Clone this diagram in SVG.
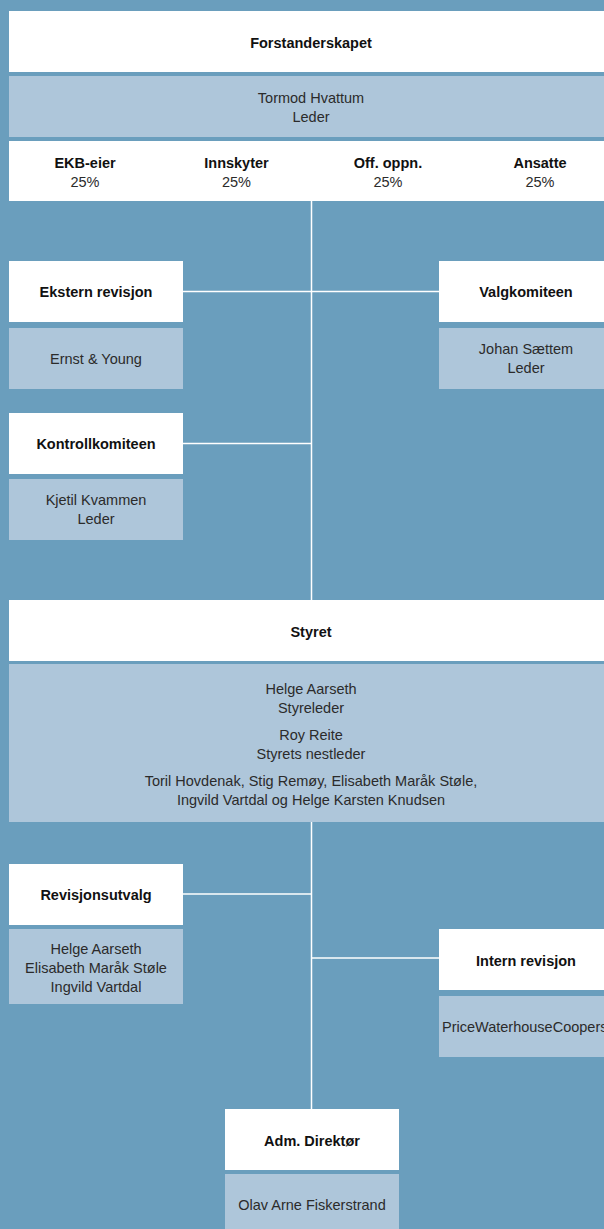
<svg xmlns="http://www.w3.org/2000/svg" width="604" height="1229" viewBox="0 0 604 1229">
<style>
.bg{fill:#6a9ebd}
.w{fill:#ffffff}
.l{fill:#aec6da}
.t{font-family:"Liberation Sans",Arial,sans-serif;font-size:14.5px;text-anchor:middle}
.b{font-weight:bold;fill:#111111}
.r{fill:#2b2b2b}
.c{stroke:#ffffff;stroke-width:1.5;fill:none}
</style>
<rect class="bg" x="0" y="0" width="604" height="1229"/>
<g id="connectors">
<line class="c" x1="311.5" y1="201" x2="311.5" y2="600"/>
<line class="c" x1="311.5" y1="822" x2="311.5" y2="1109"/>
<line class="c" x1="183" y1="291.5" x2="439" y2="291.5"/>
<line class="c" x1="183" y1="443.5" x2="311.5" y2="443.5"/>
<line class="c" x1="183" y1="894" x2="311.5" y2="894"/>
<line class="c" x1="311.5" y1="958" x2="439" y2="958"/>
</g>
<g id="forstanderskapet">
<rect class="w" x="9" y="11" width="604" height="61"/>
<text class="t b" x="311" y="48">Forstanderskapet</text>
<rect class="l" x="9" y="76" width="604" height="61"/>
<text class="t r" x="311" y="103">Tormod Hvattum</text>
<text class="t r" x="311" y="122">Leder</text>
</g>
<g id="eiere">
<rect class="w" x="9" y="141" width="604" height="60"/>
<text class="t b" x="85" y="168">EKB-eier</text>
<text class="t r" x="85" y="187">25%</text>
<text class="t b" x="236.5" y="168">Innskyter</text>
<text class="t r" x="236.5" y="187">25%</text>
<text class="t b" x="388" y="168">Off. oppn.</text>
<text class="t r" x="388" y="187">25%</text>
<text class="t b" x="540" y="168">Ansatte</text>
<text class="t r" x="540" y="187">25%</text>
</g>
<g id="ekstern-revisjon">
<rect class="w" x="9" y="261" width="174" height="61"/>
<text class="t b" x="96" y="297">Ekstern revisjon</text>
<rect class="l" x="9" y="328" width="174" height="61"/>
<text class="t r" x="96" y="364">Ernst &amp; Young</text>
</g>
<g id="valgkomiteen">
<rect class="w" x="439" y="261" width="174" height="61"/>
<text class="t b" x="526" y="297">Valgkomiteen</text>
<rect class="l" x="439" y="328" width="174" height="61"/>
<text class="t r" x="526" y="354">Johan Sættem</text>
<text class="t r" x="526" y="373">Leder</text>
</g>
<g id="kontrollkomiteen">
<rect class="w" x="9" y="413" width="174" height="61"/>
<text class="t b" x="96" y="449">Kontrollkomiteen</text>
<rect class="l" x="9" y="479" width="174" height="61"/>
<text class="t r" x="96" y="505">Kjetil Kvammen</text>
<text class="t r" x="96" y="524">Leder</text>
</g>
<g id="styret">
<rect class="w" x="9" y="600" width="604" height="61"/>
<text class="t b" x="311" y="637">Styret</text>
<rect class="l" x="9" y="664" width="604" height="158"/>
<text class="t r" x="311" y="694">Helge Aarseth</text>
<text class="t r" x="311" y="713">Styreleder</text>
<text class="t r" x="311" y="740">Roy Reite</text>
<text class="t r" x="311" y="759">Styrets nestleder</text>
<text class="t r" x="311" y="786">Toril Hovdenak, Stig Remøy, Elisabeth Maråk Støle,</text>
<text class="t r" x="311" y="805">Ingvild Vartdal og Helge Karsten Knudsen</text>
</g>
<g id="revisjonsutvalg">
<rect class="w" x="9" y="864" width="174" height="61"/>
<text class="t b" x="96" y="900">Revisjonsutvalg</text>
<rect class="l" x="9" y="929" width="174" height="75"/>
<text class="t r" x="96" y="954">Helge Aarseth</text>
<text class="t r" x="96" y="973">Elisabeth Maråk Støle</text>
<text class="t r" x="96" y="992">Ingvild Vartdal</text>
</g>
<g id="intern-revisjon">
<rect class="w" x="439" y="929" width="174" height="61"/>
<text class="t b" x="526" y="966">Intern revisjon</text>
<rect class="l" x="439" y="996" width="174" height="61"/>
<text class="t r" x="442" y="1032" style="text-anchor:start">PriceWaterhouseCoopers</text>
</g>
<g id="adm-direktor">
<rect class="w" x="225" y="1109" width="174" height="61"/>
<text class="t b" x="312" y="1146">Adm. Direktør</text>
<rect class="l" x="225" y="1174" width="174" height="60"/>
<text class="t r" x="312" y="1210">Olav Arne Fiskerstrand</text>
</g>
</svg>
